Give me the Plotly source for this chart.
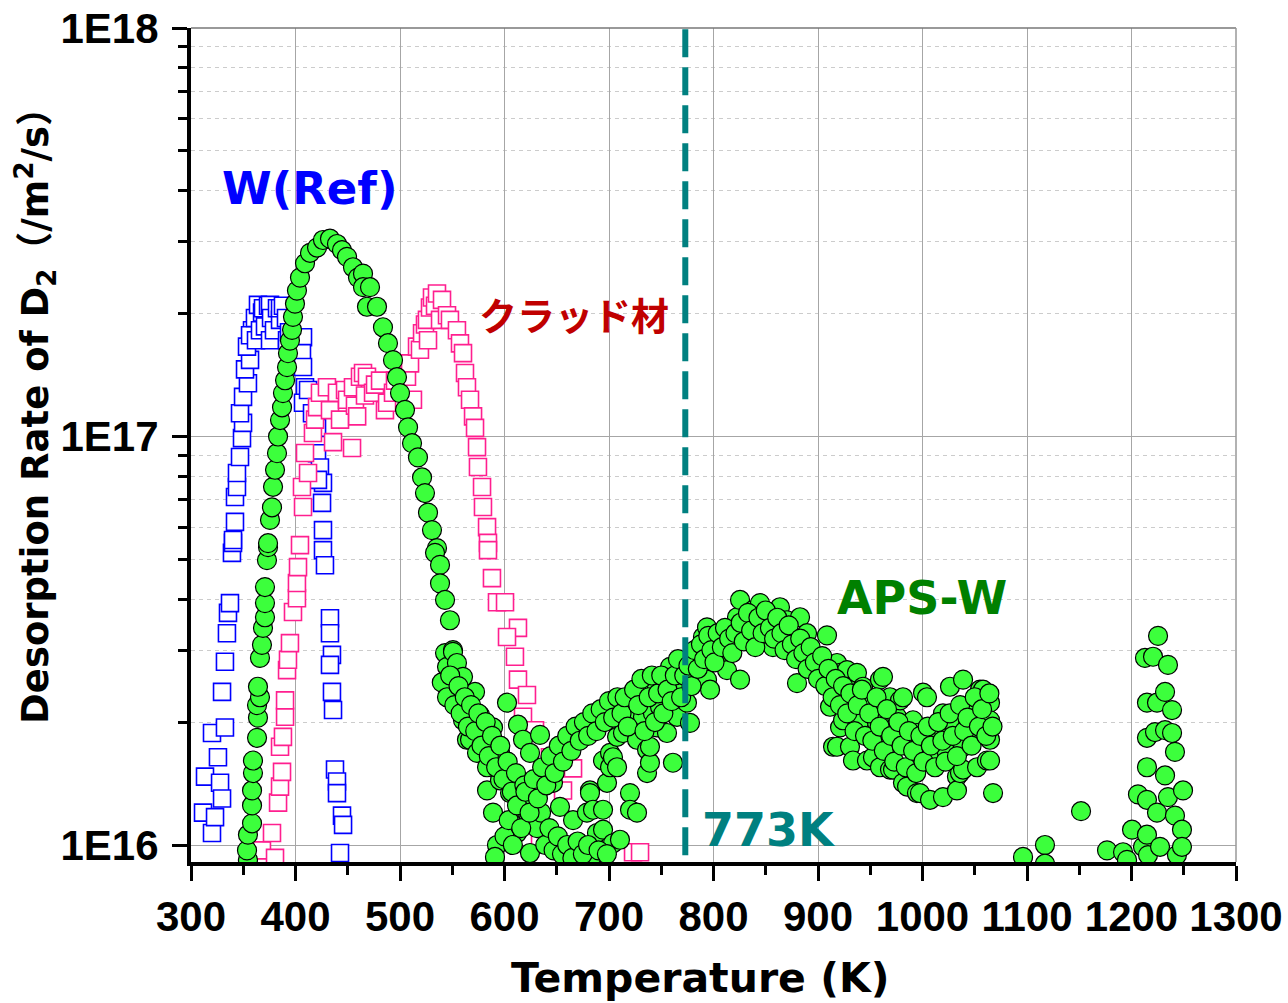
import plotly.graph_objects as go

# ---------------- data (Temperature K, desorption rate in units of 1e16 /m2/s) ----------------
wref_T = [311.5, 313.4, 320.1, 320.1, 323.0, 325.8, 327.8, 329.7, 329.7, 332.5, 332.5, 334.4,
          335.4, 337.3, 339.2, 340.2, 340.2, 342.1, 342.1, 344.0, 344.0, 346.9, 348.8, 349.8,
          346.9, 349.8, 354.5, 351.7, 356.5, 353.6, 358.4, 356.5, 361.2, 362.2, 364.1, 366.0,
          368.0, 368.9, 370.8, 373.7, 375.6, 375.6, 376.6, 379.4, 382.3, 385.2, 385.2, 388.0,
          390.9, 391.9, 393.8, 396.7, 407.2, 406.2, 407.2, 409.1, 407.2, 412.0, 415.8, 420.6,
          420.6, 423.4, 426.3, 421.5, 425.4, 426.3, 426.3, 428.2, 433.0, 433.0, 434.9, 433.0,
          434.9, 435.9, 437.8, 439.7, 439.7, 444.5, 445.5, 442.6]
wref_rate = [1.20, 1.47, 1.07, 1.88, 1.17, 1.64, 1.42, 1.30, 2.37, 1.94, 2.81, 3.30,
             3.70, 3.91, 5.19, 5.49, 5.58, 6.18, 7.11, 7.52, 8.14, 8.91, 9.91, 10.8,
             11.4, 12.5, 13.5, 14.6, 15.4, 16.6, 18.2, 17.7, 19.5, 17.2, 21.0, 18.2,
             20.1, 20.6, 18.6, 20.9, 21.0, 17.2, 19.5, 18.2, 20.6, 19.3, 20.6, 20.9,
             19.5, 17.2, 18.0, 16.7, 17.5, 16.0, 14.8, 13.2, 12.1, 13.0, 11.4, 10.5,
             9.1, 8.4, 7.7, 7.83, 6.88, 5.90, 5.27, 4.84, 3.59, 3.30, 2.92, 2.76,
             2.37, 2.14, 1.53, 1.43, 1.34, 1.18, 1.12, 0.956]

clad_T = [367.9, 380.4, 377.5, 383.3, 385.2, 387.1, 385.2, 388.0, 390.0, 390.0, 391.9, 392.8,
          394.7, 397.6, 401.4, 401.4, 402.4, 404.3, 407.2, 406.2, 412.0, 409.1, 416.7, 418.7,
          420.6, 423.4, 430.1, 433.0, 435.9, 439.7, 442.6, 447.4, 449.3, 454.1, 455.0, 456.9,
          459.0, 461.7, 464.6, 466.5, 468.4, 474.2, 476.1, 480.9, 485.6, 487.6, 493.3, 495.2,
          500.0, 506.7, 509.6, 512.4, 516.3, 519.1, 521.1, 523.9, 525.8, 526.8, 528.7, 530.6,
          533.5, 535.4, 538.3, 540.2, 545.0, 547.8, 554.5, 557.4, 560.3, 562.2, 564.1, 567.0,
          569.9, 571.8, 573.7, 574.6, 578.5, 579.4, 583.3, 584.2, 584.2, 588.0, 592.8, 600.5,
          612.9, 602.4, 610.0, 612.9, 621.5, 617.7, 629.2, 643.5, 665.6, 656.0, 617.7, 634.0,
          723.0, 729.7]
clad_rate = [0.97, 0.93, 1.07, 1.27, 1.39, 1.51, 1.74, 1.84, 2.06, 2.26, 2.68, 2.84,
             3.12, 3.72, 4.02, 4.38, 4.79, 5.42, 6.72, 7.52, 8.14, 9.11, 10.2, 11.0,
             11.8, 12.8, 13.2, 11.6, 9.69, 12.8, 11.0, 13.0, 12.3, 9.37, 13.2, 11.9,
             11.2, 14.0, 14.3, 12.6, 14.0, 12.8, 13.4, 13.7, 11.6, 12.1, 12.8, 13.7,
             14.6, 14.0, 15.1, 12.3, 16.6, 16.3, 17.9, 18.8, 19.3, 17.2, 20.7, 21.9,
             20.9, 22.4, 19.3, 21.6, 19.8, 19.3, 18.2, 16.9, 16.0, 14.3, 13.2, 12.3,
             11.2, 10.5, 9.42, 8.42, 7.52, 6.72, 6.00, 5.49, 5.27, 4.50, 3.93, 3.93,
             3.40, 3.23, 2.89, 2.54, 2.33, 2.06, 1.91, 1.64, 1.54, 1.36, 1.15, 1.03,
             0.96, 0.96]

aps_T = [354.5, 353.6, 354.5, 358.4, 358.4, 358.4, 359.3, 359.3, 363.2, 364.1, 363.2, 366.0,
         364.1, 366.0, 367.9, 368.9, 370.8, 370.8, 370.8, 372.7, 373.7, 373.7, 375.6, 377.5,
         378.5, 380.4, 382.3, 383.3, 385.2, 387.1, 388.0, 390.0, 391.9, 392.8, 394.7, 396.7,
         397.6, 399.5, 401.4, 404.3, 409.1, 413.9, 420.6, 426.3, 433.0, 439.7, 444.5, 449.3,
         455.0, 459.8, 464.6, 464.6, 468.4, 471.3, 478.0, 483.7, 488.5, 493.3, 497.1, 500.0,
         504.8, 507.7, 511.5, 517.2, 521.1, 523.9, 526.8, 530.6, 535.4, 533.5, 538.3, 538.3,
         543.1, 547.8, 543.1, 550.7, 545.0, 550.7, 554.5, 554.5, 560.3, 560.3, 571.8, 567.0,
         569.9, 576.6, 560.3, 564.1, 567.0, 573.7, 579.4, 583.3, 589.0, 583.3, 595.7, 595.7,
         589.0, 602.4, 605.3, 605.3, 612.9, 614.8, 612.0, 592.8, 590.9, 617.7, 624.4, 621.5,
         624.4, 631.1, 634.0, 640.7, 646.4, 650.2, 653.1, 665.6, 665.6, 678.9, 681.8, 681.8,
         684.7, 684.7, 688.5, 694.3, 694.3, 694.3, 698.1, 701.0, 701.0, 703.8, 703.8, 707.7,
         707.7, 710.5, 713.4, 717.2, 720.1, 720.1, 720.1, 722.0, 726.8, 726.8, 732.5, 736.4,
         736.4, 736.4, 736.4, 739.2, 739.2, 742.1, 745.9, 745.9, 748.8, 755.5, 758.4, 761.2,
         765.1, 767.9, 774.6, 777.5, 780.4, 787.1, 789.9, 793.8, 793.8, 796.7, 803.3, 806.2,
         812.9, 822.5, 825.4, 825.4, 832.1, 837.8, 844.5, 851.2, 856.9, 863.6, 870.3, 876.1,
         879.9, 882.8, 889.5, 895.2, 901.9, 904.8, 908.6, 911.5, 914.4, 918.2, 918.2, 921.1,
         921.1, 924.0, 927.8, 930.6, 930.6, 930.6, 933.5, 937.3, 937.3, 940.2, 943.1, 946.9,
         946.9, 949.8, 952.6, 952.6, 956.5, 959.3, 959.3, 962.2, 968.9, 968.9, 968.9, 971.8,
         975.6, 978.5, 981.3, 981.3, 985.2, 990.9, 994.7, 994.7, 997.6, 1000.5, 1004.3, 1004.3,
         1007.2, 1007.2, 1010.0, 1010.0, 1016.7, 1019.6, 1019.6, 1023.4, 1026.3, 1026.3, 1033.0,
         1033.0, 1035.9, 1038.8, 1038.8, 1038.8, 1042.6, 1048.3, 1048.3, 1052.2, 1055.0, 1057.9,
         1061.7, 1064.6, 1064.6, 1064.6, 1064.6, 1067.5,
         1096.2, 1117.2, 1117.2, 1151.7, 1176.6, 1191.9, 1195.7, 1200.5, 1206.2, 1211.0, 1214.8,
         1214.8, 1214.8, 1214.8, 1214.8, 1212.9, 1215.8, 1220.6, 1222.5, 1224.4, 1224.4, 1225.4,
         1227.3, 1232.1, 1232.1, 1232.1, 1234.9, 1234.9, 1238.8, 1238.8, 1241.6, 1241.6, 1243.5,
         1248.3, 1248.3, 1249.3,
         # denser band, 540-700 K decline / minimum
         540, 545, 548, 552, 556, 558, 562, 565, 568, 572, 575, 578, 582, 585, 588, 592, 596,
         599, 603, 607, 611, 615, 619, 623, 627, 631, 635, 639, 643, 647, 651, 655, 660, 665,
         670, 675, 680, 690, 698,
         # rising band 600-712 K
         600, 604, 608, 612, 616, 620, 624, 628, 632, 636, 640, 644, 648, 652, 656, 660, 664,
         668, 672, 676, 680, 684, 688, 692, 696, 700, 704, 708, 712,
         # high-temperature band 715-1067 K
         715, 718, 724, 728, 731, 734, 738, 741, 744, 747, 750, 752, 756, 760, 763, 766, 769,
         772, 776, 779, 782, 785, 788, 791, 795, 798, 801, 804, 808, 811, 815, 818, 821, 826,
         829, 833, 836, 840, 843, 847, 850, 854, 858, 861, 865, 868, 872, 875, 879, 883, 886,
         890, 893, 897, 900, 904, 907, 910, 914, 917, 921, 924, 928, 931, 935, 938, 942, 945,
         949, 952, 956, 959, 963, 966, 970, 973, 977, 980, 984, 987, 991, 994, 998, 1001, 1005,
         1008, 1012, 1015, 1019, 1022, 1026, 1029, 1033, 1036, 1040, 1043, 1047, 1050, 1054,
         1057, 1061, 1064, 1067]
aps_rate = [0.92, 0.97, 1.06, 1.13, 1.25, 1.36, 1.50, 1.61, 1.83, 2.05, 2.20, 2.30,
            2.44, 2.87, 3.09, 3.40, 3.61, 3.91, 4.28, 4.98, 5.36, 5.48, 6.25, 6.71,
            7.53, 8.29, 9.10, 10.0, 10.97, 11.79, 12.77, 13.73, 14.78, 15.99, 17.17, 18.24,
            19.63, 21.14, 22.76, 24.49, 26.55, 28.16, 29.01, 30.27, 30.50, 29.60, 28.58, 27.53,
            25.96, 24.49, 25.04, 23.2, 20.78, 23.2, 20.78, 18.51, 16.92, 15.38, 13.97, 12.77,
            11.62, 10.53, 9.63, 8.89, 7.94, 7.27, 6.51, 5.90, 5.33, 5.19, 4.85, 4.37,
            3.98, 3.55, 2.95, 3.00, 2.73, 2.97, 2.79, 2.49, 2.58, 2.26, 2.37, 2.18,
            2.10, 2.08, 2.02, 1.81, 1.81, 1.68, 1.88, 1.55, 1.94, 1.36, 1.68, 1.44,
            1.20, 2.23, 1.50, 1.34, 1.97, 1.27, 1.07, 1.00, 0.935, 1.81, 1.68, 1.20,
            0.956, 1.11, 1.86, 1.53, 1.42, 1.03, 1.24, 1.15, 0.96, 1.20, 1.36, 1.34,
            1.22, 0.945, 1.07, 1.09, 1.22, 1.61, 1.42, 1.55, 1.68, 1.64, 1.01, 1.55,
            1.84, 1.03, 1.88, 2.14, 2.14, 1.34, 1.22, 2.14, 1.81, 1.20, 2.06, 2.36,
            2.40, 1.71, 1.50, 1.59, 1.74, 2.10, 1.94, 2.44, 2.18, 1.88, 2.73, 1.59,
            2.06, 2.54, 2.23, 1.99, 2.64, 2.89, 3.23, 3.41, 2.54, 2.40, 3.23, 2.89,
            2.68, 3.61, 3.98, 2.54, 3.17, 3.76, 3.91, 3.49, 3.05, 3.82, 3.55, 3.17,
            2.49, 3.61, 3.30, 2.89, 2.73, 2.54, 3.26, 2.18, 1.74, 2.79, 1.74, 2.64,
            1.94, 2.02, 2.68, 2.44, 2.26, 1.74, 1.61, 2.64, 2.02, 2.02, 2.44, 2.26,
            1.61, 2.26, 2.10, 1.64, 1.99, 2.54, 1.55, 2.58, 2.30, 2.02, 1.53, 1.53,
            2.06, 2.26, 2.30, 1.42, 1.39, 2.02, 1.88, 1.34, 1.34, 2.36, 1.91, 2.30,
            1.68, 1.29, 1.74, 1.61, 1.84, 2.10, 1.31, 1.68, 2.44, 2.02, 1.47,
            1.36, 1.50, 2.54, 1.74, 1.53, 2.18, 1.99, 1.88, 1.55, 2.40, 2.40,
            1.61, 2.23, 2.02, 1.81, 1.61, 1.34,
            0.935, 1.00, 0.90, 1.21, 0.97, 0.96, 0.92, 1.09, 1.33, 0.99, 1.06,
            1.29, 1.55, 1.83, 2.23, 2.87, 0.945, 2.89, 1.89, 2.23, 1.20, 3.25,
            0.99, 2.37, 1.91, 1.48, 2.76, 1.31, 2.14, 1.88, 1.69, 1.18, 0.945,
            1.09, 0.99, 1.36,
            2.5, 2.3, 2.6, 2.2, 2.45, 2.1, 2.3, 1.95, 2.2, 1.9, 2.1, 1.75, 2.0, 1.65, 1.85, 1.55, 1.75,
            1.45, 1.6, 1.35, 1.5, 1.25, 1.4, 1.15, 1.3, 1.1, 1.2, 1.0, 1.1, 0.97, 1.05, 0.95, 1.0, 0.93,
            1.02, 0.95, 1.0, 0.97, 0.95,
            1.05, 1.15, 1.0, 1.25, 1.1, 1.35, 1.2, 1.45, 1.3, 1.55, 1.4, 1.65, 1.5, 1.75, 1.6, 1.85, 1.7,
            1.95, 1.8, 2.0, 1.85, 2.1, 1.9, 2.15, 2.0, 2.25, 2.05, 2.3, 2.1,
            2.3, 1.95, 2.4, 2.2, 2.55, 1.9, 2.3, 2.6, 2.0, 2.35, 2.6, 2.1, 2.4, 2.25, 2.6, 2.85, 2.3,
            2.6, 2.75, 2.45, 3.0, 2.7, 3.1, 2.85, 3.25, 3.0, 2.8, 3.3, 3.05, 3.4, 3.2, 2.95, 3.3, 3.5,
            3.15, 3.7, 3.35, 3.05, 3.6, 3.3, 3.75, 3.4, 3.2, 3.6, 3.3, 3.0, 3.45, 3.1, 2.85, 3.2, 2.95,
            2.7, 3.05, 2.8, 2.55, 2.9, 2.45, 2.7, 2.3, 2.55, 2.2, 2.45, 2.1, 2.35, 1.9, 2.2, 2.4, 1.85,
            2.1, 1.8, 2.3, 1.95, 1.7, 2.15, 1.85, 1.6, 2.0, 1.75, 1.55, 1.9, 1.7, 1.5, 1.85, 1.6, 1.95,
            1.75, 1.55, 2.0, 1.8, 1.6, 2.1, 1.85, 1.65, 2.2, 1.9, 2.05, 1.75, 2.3, 1.95,
            2.15, 1.85, 2.35, 1.95]

x_tick_vals = [300, 400, 500, 600, 700, 800, 900, 1000, 1100, 1200, 1300]
y_tick_vals = [1e16, 1e17, 1e18]
y_tick_text = ["1E16", "1E17", "1E18"]
marker_T = 773

SCALE = 1e16

fig = go.Figure()
fig.add_trace(go.Scatter(
    x=wref_T, y=[v * SCALE for v in wref_rate], mode="markers", name="W(Ref)",
    marker=dict(symbol="square", size=17, color="white",
                line=dict(color="#0000FF", width=1.6))))
fig.add_trace(go.Scatter(
    x=clad_T, y=[v * SCALE for v in clad_rate], mode="markers", name="クラッド材",
    marker=dict(symbol="square", size=17, color="white",
                line=dict(color="#FF1F8F", width=1.6))))
fig.add_trace(go.Scatter(
    x=aps_T, y=[v * SCALE for v in aps_rate], mode="markers", name="APS-W",
    marker=dict(symbol="circle", size=19, color="#3CFF3C",
                line=dict(color="black", width=1.2))))

# vertical dashed marker line
fig.add_shape(type="line", xref="x", yref="paper", x0=marker_T, x1=marker_T, y0=0.008, y1=1,
              line=dict(color="#008080", width=6, dash="28px,10px"), layer="above")
# top and right frame
fig.add_shape(type="line", xref="paper", yref="paper", x0=0, x1=1, y0=1, y1=1,
              line=dict(color="#777777", width=1.5))
fig.add_shape(type="line", xref="paper", yref="paper", x0=1, x1=1, y0=0, y1=1,
              line=dict(color="#999999", width=1.5))

lab_font = "DejaVu Sans, Verdana, sans-serif"
fig.add_annotation(x=413.9, y=17.608, xref="x", yref="y", text="<b>W(Ref)</b>", showarrow=False,
                   font=dict(family=lab_font, size=45, color="#0000FF"))
fig.add_annotation(x=666.5, y=17.300, xref="x", yref="y", text="<b>クラッド材</b>", showarrow=False,
                   font=dict(family="Noto Sans CJK JP", size=38, color="#C00000"))
fig.add_annotation(x=999.5, y=16.605, xref="x", yref="y", text="<b>APS-W</b>", showarrow=False,
                   font=dict(family=lab_font, size=46, color="#008000"))
fig.add_annotation(x=853.1, y=16.037, xref="x", yref="y", text="<b>773K</b>", showarrow=False,
                   font=dict(family=lab_font, size=46, color="#008080"))

# axis titles as annotations
fig.add_annotation(x=-0.149, y=0.546, xref="paper", yref="paper", xanchor="center", yanchor="middle",
                   text="<b>Desorption Rate of D<sub>2</sub>（/m<sup>2</sup>/s）</b>",
                   textangle=-90, showarrow=False,
                   font=dict(family="DejaVu Sans, Noto Sans CJK JP", size=37, color="black"))
fig.add_annotation(x=0.487, y=-0.139, xref="paper", yref="paper", xanchor="center", yanchor="middle",
                   text="<b>Temperature (K)</b>", showarrow=False,
                   font=dict(family=lab_font, size=41, color="black"))

tick_font = dict(family="Liberation Sans, Arial, sans-serif",
                 size=42, color="black", weight="bold")

fig.update_xaxes(
    range=[300, 1300], tickmode="array", tickvals=x_tick_vals, tickangle=0,
    ticks="outside", ticklen=15, tickwidth=3, tickcolor="black",
    showline=True, linecolor="black", linewidth=4,
    showgrid=True, gridcolor="#A6A6A6", gridwidth=1.2,
    tickfont=tick_font, automargin=False,
    minor=dict(tickvals=[350, 450, 550, 650, 750, 850, 950, 1050, 1150, 1250],
               ticks="outside", ticklen=9, tickwidth=3, tickcolor="black", showgrid=False),
    zeroline=False)

minor_y = [m * 10 ** e for e in (16, 17) for m in range(2, 10)]
fig.update_yaxes(
    type="log", range=[15.9584, 18], tickmode="array", tickvals=y_tick_vals, ticktext=y_tick_text,
    ticks="outside", ticklen=15, tickwidth=3, tickcolor="black",
    showline=True, linecolor="black", linewidth=4,
    showgrid=True, gridcolor="#A6A6A6", gridwidth=1.2,
    tickfont=tick_font, automargin=False, ticklabelstandoff=5,
    minor=dict(tickvals=minor_y, ticks="outside", ticklen=9, tickwidth=3, tickcolor="black",
               showgrid=True, gridcolor="#CCCCCC", griddash="4px,4px", gridwidth=1.2),
    zeroline=False)

fig.update_layout(
    width=1288, height=1003,
    margin=dict(l=191, r=52, t=28, b=141),
    plot_bgcolor="white", paper_bgcolor="white",
    showlegend=False,
)

fig.write_html("out.html", config={"displayModeBar": False},
               post_script="document.body.style.margin='0px';document.body.style.overflow='hidden';")
